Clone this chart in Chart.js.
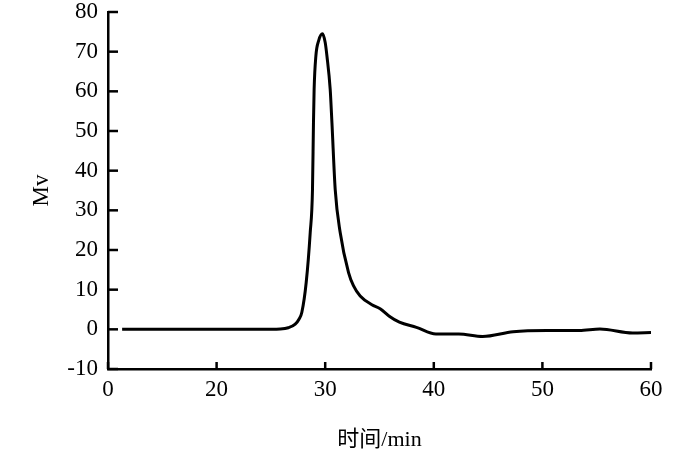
<!DOCTYPE html>
<html>
<head>
<meta charset="utf-8">
<script src="https://cdn.jsdelivr.net/npm/chart.js@4.4.1/dist/chart.umd.min.js"></script>
<style>
  html, body { margin: 0; padding: 0; background: #fff; }
  #wrap { width: 700px; height: 453px; }
</style>
</head>
<body>
<div id="wrap"><canvas id="chromChart" width="700" height="453"></canvas></div>
<script>
// --- Data ---
const timeMin = [11.3, 15, 20, 24, 25.86, 26.6, 27.24, 27.6, 27.85, 28.25, 28.62, 28.83, 28.92, 28.98, 29.14, 29.4, 29.75, 30.0, 30.16, 30.46, 30.62, 30.92, 31.38, 32.15, 32.6, 33.22, 34.3, 35.06, 35.9, 36.83, 38.4, 40.2, 42.3, 44.5, 47.3, 50.4, 53.4, 55.3, 58.3, 60];
const signalMv = [0, 0, 0, 0, 0.1, 0.4, 1.3, 2.6, 4.3, 11.8, 24.4, 35.3, 52.1, 60.5, 68.9, 72.8, 74.5, 72.3, 68.9, 60.5, 52.1, 35.3, 24.4, 14.3, 11, 8.4, 6.2, 5.2, 3.3, 1.8, 0.5, -1.2, -1.2, -1.8, -0.6, -0.3, -0.3, 0.1, -0.9, -0.8];
const xTicks = [10, 20, 30, 40, 50, 60];
const xTickLabels = ['0', '20', '30', '40', '50', '60'];
const yTicks = [-10, 0, 10, 20, 30, 40, 50, 60, 70, 80];

const serif = '"Liberation Serif", "Times New Roman", serif';
const cjk = '"Liberation Serif", "Noto Sans CJK SC", serif';

// inward tick marks, like the original figure
const innerTicks = {
    id: 'innerTicks',
    afterDraw(chart) {
        const { ctx, chartArea, scales } = chart;
        ctx.save();
        ctx.strokeStyle = '#000';
        ctx.lineWidth = 2.5;
        yTicks.forEach(v => {
            const y = scales.y.getPixelForValue(v);
            ctx.beginPath();
            ctx.moveTo(chartArea.left, y);
            ctx.lineTo(chartArea.left + 10, y);
            ctx.stroke();
        });
        xTicks.forEach(v => {
            const x = scales.x.getPixelForValue(v);
            ctx.beginPath();
            ctx.moveTo(x, chartArea.bottom);
            ctx.lineTo(x, chartArea.bottom - 7);
            ctx.stroke();
        });
        ctx.restore();
    }
};

const points = timeMin.map((t, i) => ({ x: t, y: signalMv[i] }));

new Chart(document.getElementById('chromChart'), {
    type: 'scatter',
    data: {
        datasets: [{
            data: points,
            showLine: true,
            borderColor: '#000',
            borderWidth: 3,
            pointRadius: 0,
            cubicInterpolationMode: 'monotone',
            fill: false
        }]
    },
    options: {
        responsive: false,
        animation: false,
        layout: { padding: { top: 12, right: 49, left: 0, bottom: 0 } },
        plugins: { legend: { display: false }, tooltip: { enabled: false } },
        scales: {
            x: {
                type: 'linear',
                min: 10,
                max: 60,
                afterBuildTicks: s => { s.ticks = xTicks.map(v => ({ value: v })); },
                afterFit: s => { s.height = 84; },
                grid: { display: false, drawTicks: false },
                border: { display: true, color: '#000', width: 2.5 },
                ticks: {
                    color: '#000',
                    padding: 7,
                    font: { family: serif, size: 23 },
                    callback: v => xTickLabels[xTicks.indexOf(v)]
                },
                title: {
                    display: true,
                    text: '时间/min',
                    color: '#000',
                    font: { family: cjk, size: 22 },
                    padding: { top: 16, bottom: 0 }
                }
            },
            y: {
                min: -10,
                max: 80,
                afterBuildTicks: s => { s.ticks = yTicks.map(v => ({ value: v })); },
                afterFit: s => { s.width = 108; s.paddingTop = 0; s.paddingBottom = 0; },
                grid: { display: false, drawTicks: false },
                border: { display: true, color: '#000', width: 2.5 },
                ticks: {
                    color: '#000',
                    padding: 10,
                    font: { family: serif, size: 23 }
                },
                title: {
                    display: true,
                    text: 'Mv',
                    color: '#000',
                    font: { family: serif, size: 23 },
                    padding: { top: 28, bottom: 0 }
                }
            }
        }
    },
    plugins: [innerTicks]
});
</script>
</body>
</html>
